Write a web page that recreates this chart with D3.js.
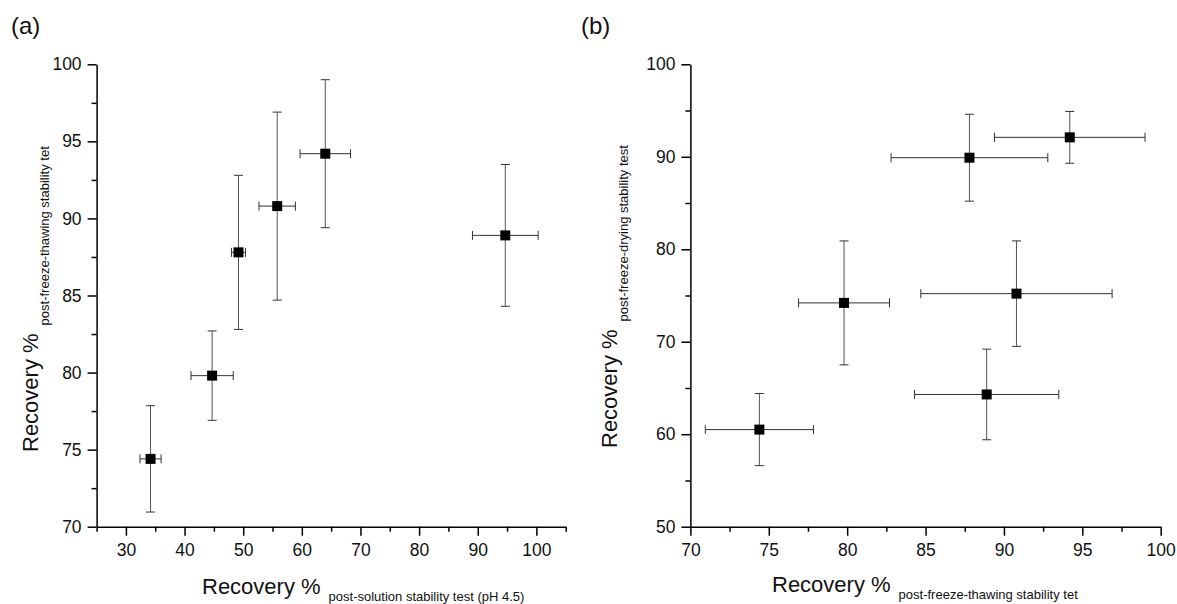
<!DOCTYPE html>
<html>
<head>
<meta charset="utf-8">
<script src="https://cdn.jsdelivr.net/npm/d3@7/dist/d3.min.js"></script>
<style>
  html, body { margin: 0; padding: 0; background: #fff; }
  svg { display: block; font-family: "Liberation Sans", Arial, sans-serif; }
  .axis path, .axis line { stroke: #000; }
  .axis path { stroke-width: 1.5; }
  .axis text { font-size: 17.5px; fill: #111; font-family: "Liberation Sans", Arial, sans-serif; }
</style>
</head>
<body>
<svg id="chart" width="1177" height="604"></svg>
<script>
// ---------- Panel (a) data ----------
const aX     = [34.2, 44.7, 49.2, 55.8, 64.0, 94.7];
const aXErr  = [1.8, 3.6, 1.2, 3.1, 4.3, 5.6];
const aY     = [74.4, 79.8, 87.8, 90.8, 94.2, 88.9];
const aYErr  = [3.45, 2.9, 5.0, 6.1, 4.8, 4.6];
const aXTicks = [30, 40, 50, 60, 70, 80, 90, 100];
const aXMinor = [25, 35, 45, 55, 65, 75, 85, 95, 105];
const aYTicks = [70, 75, 80, 85, 90, 95, 100];
const aYMinor = [72.5, 77.5, 82.5, 87.5, 92.5, 97.5];

// ---------- Panel (b) data ----------
const bX     = [74.4, 79.8, 88.9, 90.8, 87.8, 94.2];
const bXErr  = [3.45, 2.9, 4.6, 6.1, 5.0, 4.8];
const bY     = [60.5, 74.2, 64.3, 75.2, 89.9, 92.1];
const bYErr  = [3.9, 6.7, 4.9, 5.7, 4.7, 2.8];
const bXTicks = [70, 75, 80, 85, 90, 95, 100];
const bXMinor = [72.5, 77.5, 82.5, 87.5, 92.5, 97.5];
const bYTicks = [50, 60, 70, 80, 90, 100];
const bYMinor = [55, 65, 75, 85, 95];

const svg = d3.select("#chart");

function panel(cfg) {
  const g = svg.append("g");
  const x = d3.scaleLinear().domain(cfg.xDomain).range(cfg.xRange);
  const y = d3.scaleLinear().domain(cfg.yDomain).range(cfg.yRange);

  // minor ticks
  g.append("g").attr("class", "axis")
    .attr("transform", `translate(0,${cfg.yRange[0]})`)
    .call(d3.axisBottom(x).tickValues(cfg.xMinor).tickSize(5).tickFormat(""))
    .call(s => s.select(".domain").remove())
    .selectAll(".tick line").attr("stroke-width", 1.5);
  g.append("g").attr("class", "axis")
    .attr("transform", `translate(${cfg.xRange[0]},0)`)
    .call(d3.axisLeft(y).tickValues(cfg.yMinor).tickSize(5).tickFormat(""))
    .call(s => s.select(".domain").remove())
    .selectAll(".tick line").attr("stroke-width", 1.5);

  // major axes
  g.append("g").attr("class", "axis")
    .attr("transform", `translate(0,${cfg.yRange[0]})`)
    .call(d3.axisBottom(x).tickValues(cfg.xTicks).tickSize(9).tickSizeOuter(0).tickPadding(8).tickFormat(d3.format("d")))
    .selectAll(".tick line").attr("stroke-width", 1.5);
  g.append("g").attr("class", "axis")
    .attr("transform", `translate(${cfg.xRange[0]},0)`)
    .call(d3.axisLeft(y).tickValues(cfg.yTicks).tickSize(9).tickSizeOuter(0).tickPadding(6).tickFormat(d3.format("d")))
    .selectAll(".tick line").attr("stroke-width", 1.5);

  const pts = cfg.xs.map((v, i) => ({x: v, y: cfg.ys[i], ex: cfg.exs[i], ey: cfg.eys[i]}));
  const cap = 4.5;
  const eb = g.append("g").attr("stroke", "#333").attr("stroke-width", 1).attr("fill", "none");
  pts.forEach(p => {
    // vertical
    eb.append("line").attr("x1", x(p.x)).attr("x2", x(p.x)).attr("y1", y(p.y - p.ey)).attr("y2", y(p.y + p.ey)).attr("stroke", "#555");
    eb.append("line").attr("x1", x(p.x) - cap).attr("x2", x(p.x) + cap).attr("y1", y(p.y - p.ey)).attr("y2", y(p.y - p.ey));
    eb.append("line").attr("x1", x(p.x) - cap).attr("x2", x(p.x) + cap).attr("y1", y(p.y + p.ey)).attr("y2", y(p.y + p.ey));
    // horizontal
    eb.append("line").attr("x1", x(p.x - p.ex)).attr("x2", x(p.x + p.ex)).attr("y1", y(p.y)).attr("y2", y(p.y));
    eb.append("line").attr("x1", x(p.x - p.ex)).attr("x2", x(p.x - p.ex)).attr("y1", y(p.y) - cap).attr("y2", y(p.y) + cap);
    eb.append("line").attr("x1", x(p.x + p.ex)).attr("x2", x(p.x + p.ex)).attr("y1", y(p.y) - cap).attr("y2", y(p.y) + cap);
  });
  g.append("g").selectAll("rect").data(pts).join("rect")
    .attr("x", d => x(d.x) - 5).attr("y", d => y(d.y) - 5)
    .attr("width", 10).attr("height", 10).attr("fill", "#000");

  // panel label
  svg.append("text").attr("x", cfg.labelX).attr("y", 34)
    .attr("font-size", 24).attr("fill", "#111").text(cfg.label);

  // x title
  const xt = svg.append("text").attr("x", cfg.xTitleX).attr("y", cfg.xTitleY).attr("fill", "#111");
  xt.append("tspan").attr("font-size", 22).text("Recovery %");
  xt.append("tspan").attr("font-size", 13).attr("dx", 8).attr("dy", 7).text(cfg.xSub);

  // y title
  const yt = svg.append("text")
    .attr("transform", `translate(${cfg.yTitleX},${cfg.yTitleY}) rotate(-90)`)
    .attr("fill", "#111");
  yt.append("tspan").attr("font-size", 22).text("Recovery %");
  yt.append("tspan").attr("font-size", 13).attr("dx", 8).attr("dy", 11).text(cfg.ySub);
}

panel({
  xDomain: [25, 105], xRange: [96.6, 565.7],
  yDomain: [70, 100], yRange: [526.7, 64.3],
  xTicks: aXTicks, xMinor: aXMinor, yTicks: aYTicks, yMinor: aYMinor,
  xs: aX, ys: aY, exs: aXErr, eys: aYErr,
  label: "(a)", labelX: 11,
  xTitleX: 202, xTitleY: 593.5, xSub: "post-solution stability test (pH 4.5)",
  yTitleX: 38, yTitleY: 452, ySub: "post-freeze-thawing stability tet"
});

panel({
  xDomain: [70, 100], xRange: [690.4, 1160.7],
  yDomain: [50, 100], yRange: [526.7, 64.3],
  xTicks: bXTicks, xMinor: bXMinor, yTicks: bYTicks, yMinor: bYMinor,
  xs: bX, ys: bY, exs: bXErr, eys: bYErr,
  label: "(b)", labelX: 581,
  xTitleX: 772, xTitleY: 592, xSub: "post-freeze-thawing stability tet",
  yTitleX: 617, yTitleY: 448, ySub: "post-freeze-drying stability test"
});
</script>
</body>
</html>
